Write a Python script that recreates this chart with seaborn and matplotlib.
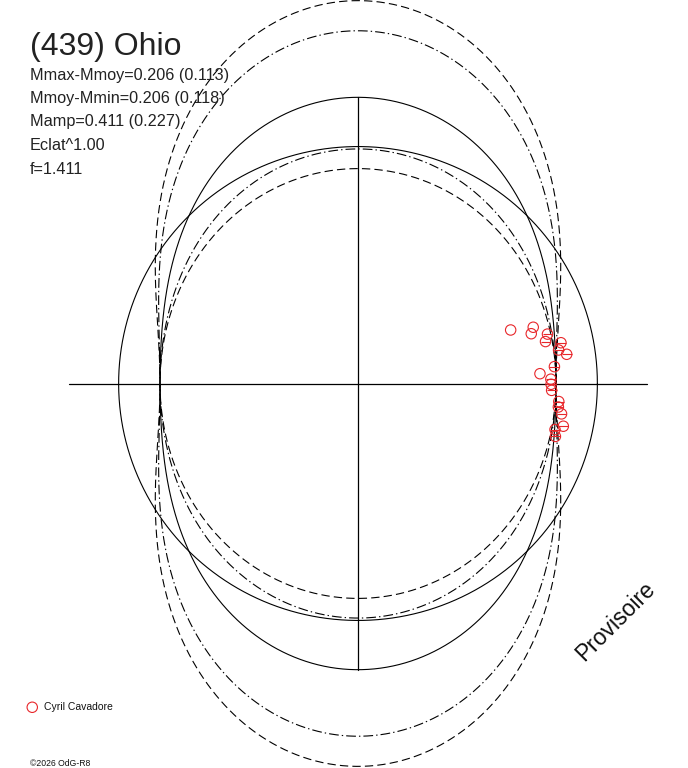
import numpy as np
import pandas as pd
import matplotlib
matplotlib.use("Agg")
import matplotlib.pyplot as plt
import seaborn as sns

# ---------------- data ----------------
title = "(439) Ohio"
info_lines = ["Mmax-Mmoy=0.206 (0.113)", "Mmoy-Mmin=0.206 (0.118)",
              "Mamp=0.411 (0.227)", "Eclat^1.00", "f=1.411"]
mean_offset = 0.206                      # Mmoy - Mmin (mag) -> mean circle
amp_main = 0.411                         # fitted amplitude (mag)
amp_dashdot = [0.638, 0.195]             # amplitude +/- sigma curves (mag)
amp_dashed = [0.727, 0.100]              # outer envelope curves (mag)

# observations (polar x/y in units of minimum flux)
obs_x = [0.771, 0.885, 0.875, 0.957, 0.947, 1.025, 1.013, 1.054, 0.992, 0.919,
         0.974, 0.975, 0.978, 1.014, 1.012, 1.028, 1.037, 0.995, 0.997]
obs_y = [0.273, 0.287, 0.254, 0.252, 0.214, 0.208, 0.171, 0.149, 0.086, 0.050,
         0.022, -0.004, -0.035, -0.092, -0.120, -0.155, -0.218, -0.235, -0.270]
obs_err = [0.0, 0.0, 0.0, 0.025, 0.025, 0.025, 0.025, 0.025, 0.025, 0.0,
           0.025, 0.025, 0.025, 0.025, 0.025, 0.025, 0.025, 0.025, 0.025]
observer = "Cyril Cavadore"
watermark = "Provisoire"
copyright_txt = "\u00a92026 OdG-R8"

# ---------------- style ----------------
sns.set_theme(style="white")
plt.rcParams["font.family"] = ["Liberation Sans", "DejaVu Sans"]
plt.rcParams["lines.scale_dashes"] = False

W, H = 688, 768
fig = plt.figure(figsize=(W / 100, H / 100), dpi=100, facecolor="white")
ax = fig.add_axes([0, 0, 1, 1])
ax.set_axis_off()

sx, sy = 198.0, 196.0   # px per unit
cx, cy = 358.0, 383.5
ax.set_xlim(-cx / sx, (W - cx) / sx)
ax.set_ylim(-(H - cy) / sy, cy / sy)

theta = np.linspace(0, 2 * np.pi, 1441)

def curve(amp):
    r = 10 ** (0.4 * amp / 2 * (1 - np.cos(2 * theta)))
    return pd.DataFrame({"x": r * np.cos(theta), "y": r * np.sin(theta)})

def draw(df, ls, lw=0.8):
    sns.lineplot(data=df, x="x", y="y", sort=False, estimator=None,
                 color="black", lw=lw, ax=ax)
    ax.lines[-1].set_linestyle(ls)

dash_ls = (0, (6, 3))
dashdot_ls = (0, (7, 2.2, 1, 2.2))

for a in amp_dashed:
    draw(curve(a), dash_ls)
for a in amp_dashdot:
    draw(curve(a), dashdot_ls)
draw(curve(amp_main), "-")

# mean circle
r_mean = 10 ** (0.4 * mean_offset)
draw(pd.DataFrame({"x": r_mean * np.cos(theta), "y": r_mean * np.sin(theta)}), "-")

# cross axes
r_max = 10 ** (0.4 * amp_main)
ax.plot([-r_max, r_max], [0, 0], color="black", lw=0.9)
ax.plot([0, 0], [-r_max, r_max], color="black", lw=0.9)

# observations
red = "#e8262a"
ax.errorbar(obs_x, obs_y, xerr=obs_err, fmt="none", ecolor=red, elinewidth=0.8,
            capsize=0)
sns.scatterplot(x=obs_x, y=obs_y, marker="o", s=56, ax=ax, label=observer,
                zorder=5)
sc = ax.collections[-1]
sc.set_facecolor("none")
sc.set_edgecolor(red)
sc.set_linewidth(0.8)

leg = ax.legend(loc="center left", bbox_to_anchor=(26.0 / W, 1 - 707 / H),
                frameon=False, fontsize=7.5, borderpad=0, borderaxespad=0,
                handlelength=1.2, handletextpad=0.55)
for h in leg.legend_handles:
    h.set_facecolor("none")
    h.set_edgecolor(red)
    h.set_linewidth(0.8)
for t in leg.get_texts():
    t.set_color("#111111")

# texts
fig.text(30 / W, 1 - 55 / H, title, fontsize=23, color="#222222",
         va="baseline", ha="left")
for i, line in enumerate(info_lines):
    base = [80, 103, 126, 150, 174][i]
    fig.text(30 / W, 1 - base / H, line, fontsize=11.7, color="#222222",
             va="baseline", ha="left")

fig.text(616 / W, 1 - 621 / H, watermark, fontsize=16.5, rotation=45,
         ha="center", va="center", color="#111111")
fig.text(30 / W, 1 - 763 / H, copyright_txt, fontsize=6.2, color="#111111",
         ha="left", va="center")

fig.savefig("out.png", dpi=100, facecolor="white")
